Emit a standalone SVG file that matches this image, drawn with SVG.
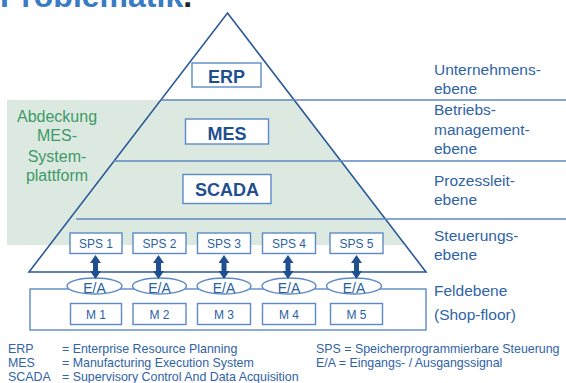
<svg xmlns="http://www.w3.org/2000/svg" width="566" height="383" viewBox="0 0 566 383">
<defs>
<style>
.pyr{fill:none;stroke:#2b5a98;stroke-width:1.6}
.hl{stroke:#6189c0;stroke-width:1.5}
.box{fill:#fff;stroke:#5b8ac6;stroke-width:1.4}
.big{font-family:"Liberation Sans",Arial,sans-serif;font-weight:bold;font-size:18px;fill:#1f4f8f;text-anchor:middle}
.sm{font-family:"Liberation Sans",Arial,sans-serif;font-size:12px;fill:#2a5fa3;text-anchor:middle}
.ea{font-family:"Liberation Sans",Arial,sans-serif;font-size:14px;fill:#2a5fa3;text-anchor:middle}
.lab{font-family:"Liberation Sans",Arial,sans-serif;font-size:15.5px;fill:#2f63a6}
.grn{font-family:"Liberation Sans",Arial,sans-serif;font-size:16px;fill:#3f9a68;text-anchor:middle}
.leg{font-family:"Liberation Sans",Arial,sans-serif;font-size:12.4px;fill:#2f63a6}
.arr{stroke:#1f4f8f;stroke-width:5;fill:none}
</style>
<marker id="ah" viewBox="0 0 8 11" refX="0" refY="5.5" markerWidth="8" markerHeight="11" markerUnits="userSpaceOnUse" orient="auto-start-reverse">
<path d="M0,0 L8,5.5 L0,11 z" fill="#1f4f8f"/>
</marker>
</defs>
<rect width="566" height="383" fill="#fff"/>
<text x="0" y="7" font-family="Liberation Sans,Arial,sans-serif" font-weight="bold" font-size="32" fill="#3a7cc4">Problematik<tspan fill="#222">.</tspan></text>

<g id="coverage">
<polygon points="7,100 294.1,100 405.2,245 7,245" fill="#dbe9e1"/>
<text class="grn" x="57" y="122">Abdeckung</text>
<text class="grn" x="57" y="141">MES-</text>
<text class="grn" x="57" y="162">System-</text>
<text class="grn" x="57" y="181">plattform</text>
</g>

<g id="pyramid">
<polygon class="pyr" points="227.5,13 426,272 29,272"/>
<line class="hl" x1="160.9" y1="100" x2="566" y2="100"/>
<line class="hl" x1="114" y1="161" x2="566" y2="161"/>
<line class="hl" x1="76" y1="219" x2="566" y2="219"/>
<rect x="30" y="289" width="396" height="41" fill="none" stroke="#5b8ac6" stroke-width="1.4"/>
</g>

<g id="erp"><rect class="box" x="192" y="63" width="69" height="24"/><text class="big" x="226.5" y="83">ERP</text></g>
<g id="mes"><rect class="box" x="185.5" y="119" width="83" height="25"/><text class="big" x="227" y="140">MES</text></g>
<g id="scada"><rect class="box" x="183" y="174.5" width="88" height="29"/><text class="big" x="227" y="195.5">SCADA</text></g>

<g id="sps1"><rect class="box" x="70" y="233" width="52" height="20.5"/><text class="sm" x="96" y="248">SPS 1</text></g>
<g id="sps2"><rect class="box" x="133" y="233" width="53" height="20.5"/><text class="sm" x="159.5" y="248">SPS 2</text></g>
<g id="sps3"><rect class="box" x="197.5" y="233" width="53" height="20.5"/><text class="sm" x="224" y="248">SPS 3</text></g>
<g id="sps4"><rect class="box" x="262.5" y="233" width="53" height="20.5"/><text class="sm" x="289" y="248">SPS 4</text></g>
<g id="sps5"><rect class="box" x="330" y="233" width="53" height="20.5"/><text class="sm" x="356.5" y="248">SPS 5</text></g>

<g id="ea1"><ellipse class="box" cx="94.5" cy="286" rx="27.5" ry="8"/><text class="ea" x="94.5" y="292.5">E/A</text></g>
<g id="ea2"><ellipse class="box" cx="159.5" cy="286" rx="27" ry="8"/><text class="ea" x="159.5" y="292.5">E/A</text></g>
<g id="ea3"><ellipse class="box" cx="224" cy="286" rx="27" ry="8"/><text class="ea" x="224" y="292.5">E/A</text></g>
<g id="ea4"><ellipse class="box" cx="289" cy="286" rx="27" ry="8"/><text class="ea" x="289" y="292.5">E/A</text></g>
<g id="ea5"><ellipse class="box" cx="354" cy="286" rx="27.5" ry="8"/><text class="ea" x="354" y="292.5">E/A</text></g>

<g id="m1"><rect class="box" x="70.5" y="303.5" width="51" height="21"/><text class="sm" x="96" y="319">M 1</text></g>
<g id="m2"><rect class="box" x="133" y="303.5" width="53" height="21"/><text class="sm" x="159.5" y="319">M 2</text></g>
<g id="m3"><rect class="box" x="197.5" y="303.5" width="53" height="21"/><text class="sm" x="224" y="319">M 3</text></g>
<g id="m4"><rect class="box" x="262.5" y="303.5" width="53" height="21"/><text class="sm" x="289" y="319">M 4</text></g>
<g id="m5"><rect class="box" x="330.5" y="303.5" width="52" height="21"/><text class="sm" x="356.5" y="319">M 5</text></g>

<g id="connectors">
<line class="arr" x1="95.5" y1="263" x2="95.5" y2="271" marker-start="url(#ah)" marker-end="url(#ah)"/>
<line class="arr" x1="158.5" y1="263" x2="158.5" y2="271" marker-start="url(#ah)" marker-end="url(#ah)"/>
<line class="arr" x1="224" y1="263" x2="224" y2="271" marker-start="url(#ah)" marker-end="url(#ah)"/>
<line class="arr" x1="288" y1="263" x2="288" y2="271" marker-start="url(#ah)" marker-end="url(#ah)"/>
<line class="arr" x1="356.5" y1="263" x2="356.5" y2="271" marker-start="url(#ah)" marker-end="url(#ah)"/>
</g>

<g id="labels">
<text class="lab" x="434" y="75">Unternehmens-</text>
<text class="lab" x="434" y="93.5">ebene</text>
<text class="lab" x="434" y="115">Betriebs-</text>
<text class="lab" x="434" y="134.5">management-</text>
<text class="lab" x="434" y="153.5">ebene</text>
<text class="lab" x="434" y="186">Prozessleit-</text>
<text class="lab" x="434" y="205">ebene</text>
<text class="lab" x="434" y="241">Steuerungs-</text>
<text class="lab" x="434" y="259.5">ebene</text>
<text class="lab" x="434" y="296" font-size="16">Feldebene</text>
<text class="lab" x="434" y="320" font-size="16">(Shop-floor)</text>
</g>

<g id="legend">
<text class="leg" x="8" y="353">ERP</text>
<text class="leg" x="62" y="353">= Enterprise Resource Planning</text>
<text class="leg" x="8" y="367">MES</text>
<text class="leg" x="62" y="367">= Manufacturing Execution System</text>
<text class="leg" x="8" y="381">SCADA</text>
<text class="leg" x="62" y="381">= Supervisory Control And Data Acquisition</text>
<text class="leg" x="316" y="353">SPS = Speicherprogrammierbare Steuerung</text>
<text class="leg" x="316" y="367">E/A  = Eingangs- / Ausgangssignal</text>
</g>
</svg>
